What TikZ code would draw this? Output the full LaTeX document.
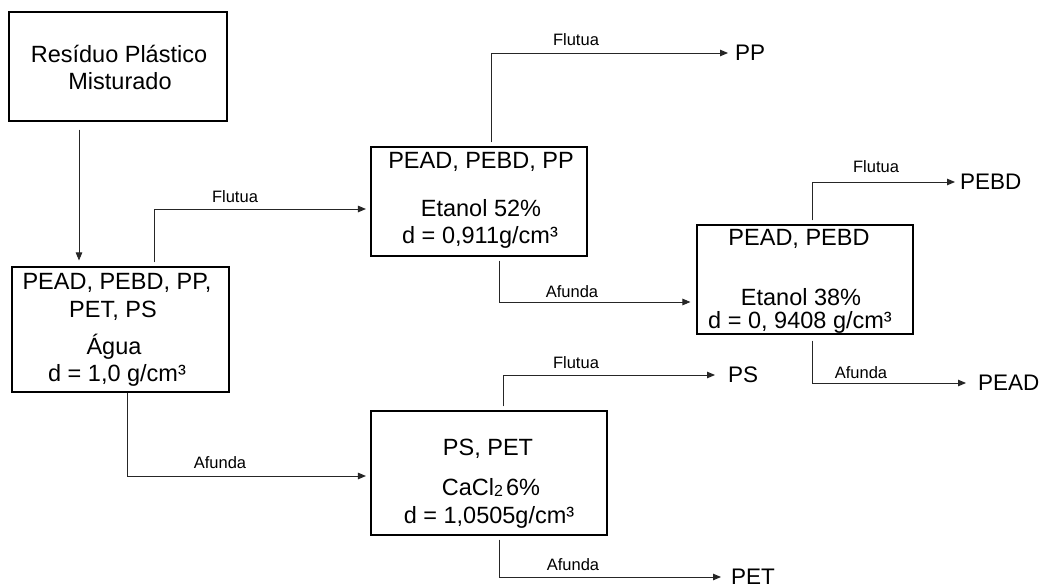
\documentclass[tikz,border=0pt]{standalone}
\usepackage{fontspec}
\setmainfont{Liberation Sans}
\usetikzlibrary{arrows.meta}
\begin{document}
\begin{tikzpicture}[x=1pt,y=-1pt,
  box/.style={draw=black, line width=1.1pt, inner sep=0pt},
  bt/.style={font=\fontsize{23.5}{28}\selectfont, anchor=base, inner sep=0pt},
  lab/.style={font=\fontsize{16.5}{20}\selectfont, anchor=base, inner sep=0pt},
  outn/.style={font=\fontsize{22.5}{26}\selectfont, anchor=west, inner ysep=0pt},
  arr/.style={-{Triangle[length=8pt,width=6.5pt]}, line width=0.9pt, draw=black!85}]
\useasboundingbox[fill=white] (0,0) rectangle (1043,588);

% boxes
\node[box, minimum width=218pt, minimum height=109pt] (box1) at (118,66.5) {};
\node[box, minimum width=217pt, minimum height=125pt] (box2) at (120.5,329.5) {};
\node[box, minimum width=216pt, minimum height=109pt] (box3) at (479,201.5) {};
\node[box, minimum width=236pt, minimum height=124pt] (box4) at (489,473) {};
\node[box, minimum width=216pt, minimum height=109pt] (box5) at (805,279.5) {};

% box texts
\node[bt] (t1a) at (119,63) {Resíduo Plástico};
\node[bt] (t1b) at (120,90) {Misturado};
\node[bt] (t2a) at (117,289) {PEAD, PEBD, PP,};
\node[bt] (t2b) at (113,317) {PET, PS};
\node[bt] (t2c) at (114,354) {Água};
\node[bt] (t2d) at (117,381) {d = 1,0 g/cm³};
\node[bt] (t3a) at (481,169) {PEAD, PEBD, PP};
\node[bt] (t3b) at (481,216) {Etanol 52\%};
\node[bt] (t3c) at (480,243) {d = 0,911g/cm³};
\node[bt] (t5a) at (799,245) {PEAD, PEBD};
\node[bt] (t5b) at (801,305) {Etanol 38\%};
\node[bt] (t5c) at (800,328) {d = 0, 9408 g/cm³};
\node[bt] (t4a) at (488,455) {PS, PET};
\node[bt] (t4b) at (491,495) {CaCl\raisebox{-1.5pt}{\fontsize{16}{16}\selectfont 2}\hspace{3pt}6\%};
\node[bt] (t4c) at (489,523) {d = 1,0505g/cm³};

% outputs
\node[outn, inner xsep=7pt] (PP) at (728,53) {PP};
\node[outn, inner xsep=13pt] (PS) at (715,375) {PS};
\node[outn, inner xsep=5pt] (PEBD) at (955,182) {PEBD};
\node[outn, inner xsep=12pt] (PEAD) at (966,383) {PEAD};
\node[outn, inner xsep=10pt] (PET) at (721,577) {PET};

% labels
\node[lab] (l1) at (235,202) {Flutua};
\node[lab] (l2) at (220,468) {Afunda};
\node[lab] (l3) at (576,46) {Flutua};
\node[lab] (l4) at (572,297) {Afunda};
\node[lab] (l5) at (876,172) {Flutua};
\node[lab] (l6) at (861,378) {Afunda};
\node[lab] (l7) at (576,368) {Flutua};
\node[lab] (l8) at (573,570) {Afunda};

% connectors
\draw[arr, shorten <=8pt, shorten >=6pt] (box1.south -| 79,0) -- (box2.north -| 79,0);
\draw[arr, shorten <=4pt, shorten >=4.5pt] (box2.north -| 154,0) |- (box3.west |- 0,209);
\draw[arr, shorten >=4.5pt] (box2.south -| 127,0) |- (box4.west |- 0,476);
\draw[arr, shorten <=4pt] (box3.north -| 491,0) |- (PP);
\draw[arr, shorten <=4pt, shorten >=6pt] (box3.south -| 499,0) |- (box5.west |- 0,302);
\draw[arr, shorten <=4pt] (box5.north -| 812,0) |- (PEBD);
\draw[arr, shorten <=6pt] (box5.south -| 812,0) |- (PEAD);
\draw[arr, shorten <=4pt] (box4.north -| 503,0) |- (PS);
\draw[arr, shorten <=4pt] (box4.south -| 499,0) |- (PET);
\end{tikzpicture}
\end{document}
